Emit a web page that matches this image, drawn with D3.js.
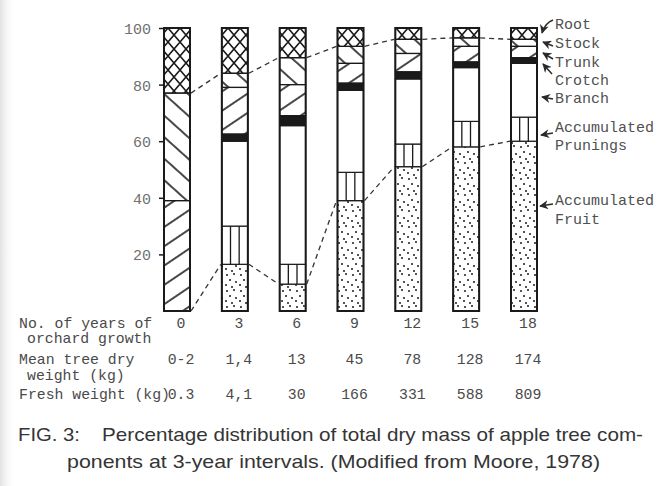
<!DOCTYPE html>
<html>
<head>
<meta charset="utf-8">
<script src="https://cdn.jsdelivr.net/npm/d3@7"></script>
<style>
  html, body { margin: 0; padding: 0; background: #fff; }
  svg { display: block; }
  .mono { font-family: "Liberation Mono", "DejaVu Sans Mono", monospace; }
</style>
</head>
<body>
<div id="chart"></div>
<script>
// ---- data (percent of total dry mass, bottom to top) ----
const years      = [0, 3, 6, 9, 12, 15, 18];
const fruit      = [0, 16.5, 9.5, 39, 51, 58, 60];
const prunings   = [0, 13.5, 7, 10, 8, 9, 8.5];
const branch     = [0, 30, 49, 29, 23, 19, 19];
const crotch     = [0, 2.5, 3.5, 2.5, 2.5, 2, 2];
const trunk      = [39, 16.5, 11, 7, 6.5, 5.5, 4];
const stock      = [38, 5, 9.5, 6, 5, 3, 2.5];
const root       = [23, 16, 10.5, 6.5, 4, 3.5, 4];
const components = ["Fruit", "Prunings", "Branch", "Crotch", "Trunk", "Stock", "Root"];
const yTicks     = [20, 40, 60, 80, 100];
const yearLabels = ["0", "3", "6", "9", "12", "15", "18"];
const meanDry    = ["0-2", "1,4", "13", "45", "78", "128", "174"];
const freshWt    = ["0.3", "4,1", "30", "166", "331", "588", "809"];
const rowLabels  = [["No. of years of", "orchard growth"], ["Mean tree dry", "weight (kg)"], ["Fresh weight (kg)"]];
const legendLabels = [["Root"], ["Stock"], ["Trunk"], ["Crotch"], ["Branch"], ["Accumulated", "Prunings"], ["Accumulated", "Fruit"]];
const captionLines = ["FIG. 3:", "Percentage distribution of total dry mass of apple tree com-", "ponents at 3-year intervals. (Modified from Moore, 1978)"];

const series = { Fruit: fruit, Prunings: prunings, Branch: branch, Crotch: crotch, Trunk: trunk, Stock: stock, Root: root };
const table = years.map((yr, i) => {
  const row = { year: yr };
  components.forEach(c => row[c] = series[c][i]);
  return row;
});

// ---- setup ----
const W = 659, H = 486;
const svg = d3.select("#chart").append("svg").attr("width", W).attr("height", H);
const defs = svg.append("defs");

// left-edge scan shading
const lg = defs.append("linearGradient").attr("id", "edge").attr("x1", 0).attr("x2", 1);
lg.append("stop").attr("offset", 0).attr("stop-color", "#e2e2e2");
lg.append("stop").attr("offset", 1).attr("stop-color", "#ffffff").attr("stop-opacity", 0);
svg.append("rect").attr("x", 0).attr("y", 0).attr("width", 16).attr("height", H).attr("fill", "url(#edge)");

const x = d3.scalePoint().domain(years).range([177, 524]);
const bw = 26;
const y = d3.scaleLinear().domain([0, 100]).range([311, 28]);

// patterns
const ink = "#1a1a1a";
function hatch(id, angle, gap) {
  const p = defs.append("pattern").attr("id", id).attr("patternUnits", "userSpaceOnUse")
    .attr("width", 10).attr("height", gap).attr("patternTransform", `rotate(${angle})`);
  p.append("line").attr("x1", 0).attr("x2", 10).attr("y1", gap / 2).attr("y2", gap / 2)
    .attr("stroke", ink).attr("stroke-width", 1.6);
}
hatch("stockPat", 42, 16);
hatch("trunkPat", -34, 16);
{
  const p = defs.append("pattern").attr("id", "rootPat").attr("patternUnits", "userSpaceOnUse")
    .attr("width", 12).attr("height", 14);
  p.append("path").attr("d", "M0,0 L12,14 M12,0 L0,14 M-1,13 L1,15 M11,-1 L13,1")
    .attr("stroke", ink).attr("stroke-width", 1.6).attr("fill", "none");
}
{
  const p = defs.append("pattern").attr("id", "fruitPat").attr("patternUnits", "userSpaceOnUse")
    .attr("width", 14).attr("height", 16);
  [[3, 3], [10, 2], [6, 8], [12, 10], [2, 13], [8, 15]].forEach(([cx, cy]) =>
    p.append("circle").attr("cx", cx).attr("cy", cy).attr("r", 1).attr("fill", ink));
}
const fills = { Fruit: "url(#fruitPat)", Prunings: "#fff", Branch: "#fff", Crotch: ink,
                Trunk: "url(#trunkPat)", Stock: "url(#stockPat)", Root: "url(#rootPat)" };

const stacked = d3.stack().keys(components)(table);

// ---- bars ----
const g = svg.append("g");
stacked.forEach(layer => {
  g.append("g").selectAll("rect").data(layer.filter(d => d[1] - d[0] > 0)).join("rect")
    .attr("x", d => x(d.data.year) - bw / 2)
    .attr("y", d => y(d[1]))
    .attr("width", bw)
    .attr("height", d => y(d[0]) - y(d[1]))
    .attr("fill", fills[layer.key])
    .attr("stroke", ink).attr("stroke-width", 1.2);
});
// prunings vertical dividers
const prLayer = stacked.find(l => l.key === "Prunings");
prLayer.filter(d => d[1] - d[0] > 0).forEach(d => {
  [1, 2].forEach(k => {
    const xx = x(d.data.year) - bw / 2 + k * bw / 3;
    g.append("line").attr("x1", xx).attr("x2", xx).attr("y1", y(d[0])).attr("y2", y(d[1]))
      .attr("stroke", ink).attr("stroke-width", 1.3);
  });
});
// bar outlines
g.append("g").selectAll("rect").data(years).join("rect")
  .attr("x", d => x(d) - bw / 2).attr("y", y(100))
  .attr("width", bw).attr("height", y(0) - y(100))
  .attr("fill", "none").attr("stroke", ink).attr("stroke-width", 2);

// ---- dashed connectors ----
function connector(getVal) {
  const pts = [];
  for (let i = 0; i < years.length - 1; i++) {
    pts.push([[x(years[i]) + bw / 2 + 1, y(getVal(i))], [x(years[i + 1]) - bw / 2 - 1, y(getVal(i + 1))]]);
  }
  svg.append("g").selectAll("line").data(pts).join("line")
    .attr("x1", d => d[0][0]).attr("y1", d => d[0][1])
    .attr("x2", d => d[1][0]).attr("y2", d => d[1][1])
    .attr("stroke", "#333").attr("stroke-width", 1.3).attr("stroke-dasharray", "5,4");
}
connector(i => 100 - root[i]);
connector(i => fruit[i]);

// ---- y axis ----
const axis = svg.append("g").attr("transform", `translate(${x(years[0]) - bw / 2},0)`)
  .call(d3.axisLeft(y).tickValues(yTicks).tickSize(5).tickPadding(8));
axis.select(".domain").remove();
axis.selectAll(".tick line").attr("stroke", ink).attr("stroke-width", 1.5);
axis.selectAll(".tick text").attr("class", "mono").attr("font-size", 15).attr("fill", "#707070")
  .attr("dy", "0.36em");

// ---- legend labels on right ----
const legY = [[29], [48], [67], [85], [103], [132, 150], [205, 224]];
const leg = svg.append("g").attr("class", "mono").attr("font-size", 15).attr("fill", "#505050");
legendLabels.forEach((lines, i) => {
  lines.forEach((t, j) => leg.append("text").attr("x", 555).attr("y", legY[i][j]).text(t));
});
defs.append("marker").attr("id", "ah").attr("viewBox", "0 0 10 10").attr("refX", 9).attr("refY", 5)
  .attr("markerWidth", 6).attr("markerHeight", 6).attr("orient", "auto")
  .append("path").attr("d", "M0,0 L10,5 L0,10 L3,5 z").attr("fill", "#2a2a2a");
const arrows = ["M553,20 Q545,23 542,33", "M553,46 L543,42", "M553,59 L543,53", "M552,74 L543,64",
                "M553,99 L542,97", "M553,133 L541,135", "M553,204 L540,206"];
svg.append("g").selectAll("path").data(arrows).join("path")
  .attr("d", d => d).attr("fill", "none").attr("stroke", "#2a2a2a").attr("stroke-width", 1.5)
  .attr("marker-end", "url(#ah)");

// ---- data table below ----
const tbl = svg.append("g").attr("class", "mono").attr("font-size", 14.8).attr("fill", "#4a4a4a");
const rowY = [[328, 343], [364, 380], [399]];
rowLabels.forEach((lines, i) => lines.forEach((t, j) =>
  tbl.append("text").attr("x", j === 0 ? 19 : 27).attr("y", rowY[i][j]).text(t)));
[yearLabels, meanDry, freshWt].forEach((vals, r) => {
  tbl.append("g").selectAll("text").data(vals).join("text")
    .attr("x", (d, i) => x(years[i]) + 4)
    .attr("y", rowY[r][0]).attr("text-anchor", "middle").text(d => d);
});

// ---- caption ----
const cap = svg.append("g").attr("font-family", "'Liberation Sans', Arial, sans-serif")
  .attr("font-size", 19).attr("fill", "#353535");
cap.append("text").attr("x", 18).attr("y", 441).attr("textLength", 62).attr("lengthAdjust", "spacingAndGlyphs").text(captionLines[0]);
cap.append("text").attr("x", 102).attr("y", 441).attr("textLength", 541).attr("lengthAdjust", "spacingAndGlyphs").text(captionLines[1]);
cap.append("text").attr("x", 67).attr("y", 468).attr("textLength", 533).attr("lengthAdjust", "spacingAndGlyphs").text(captionLines[2]);
</script>
</body>
</html>
